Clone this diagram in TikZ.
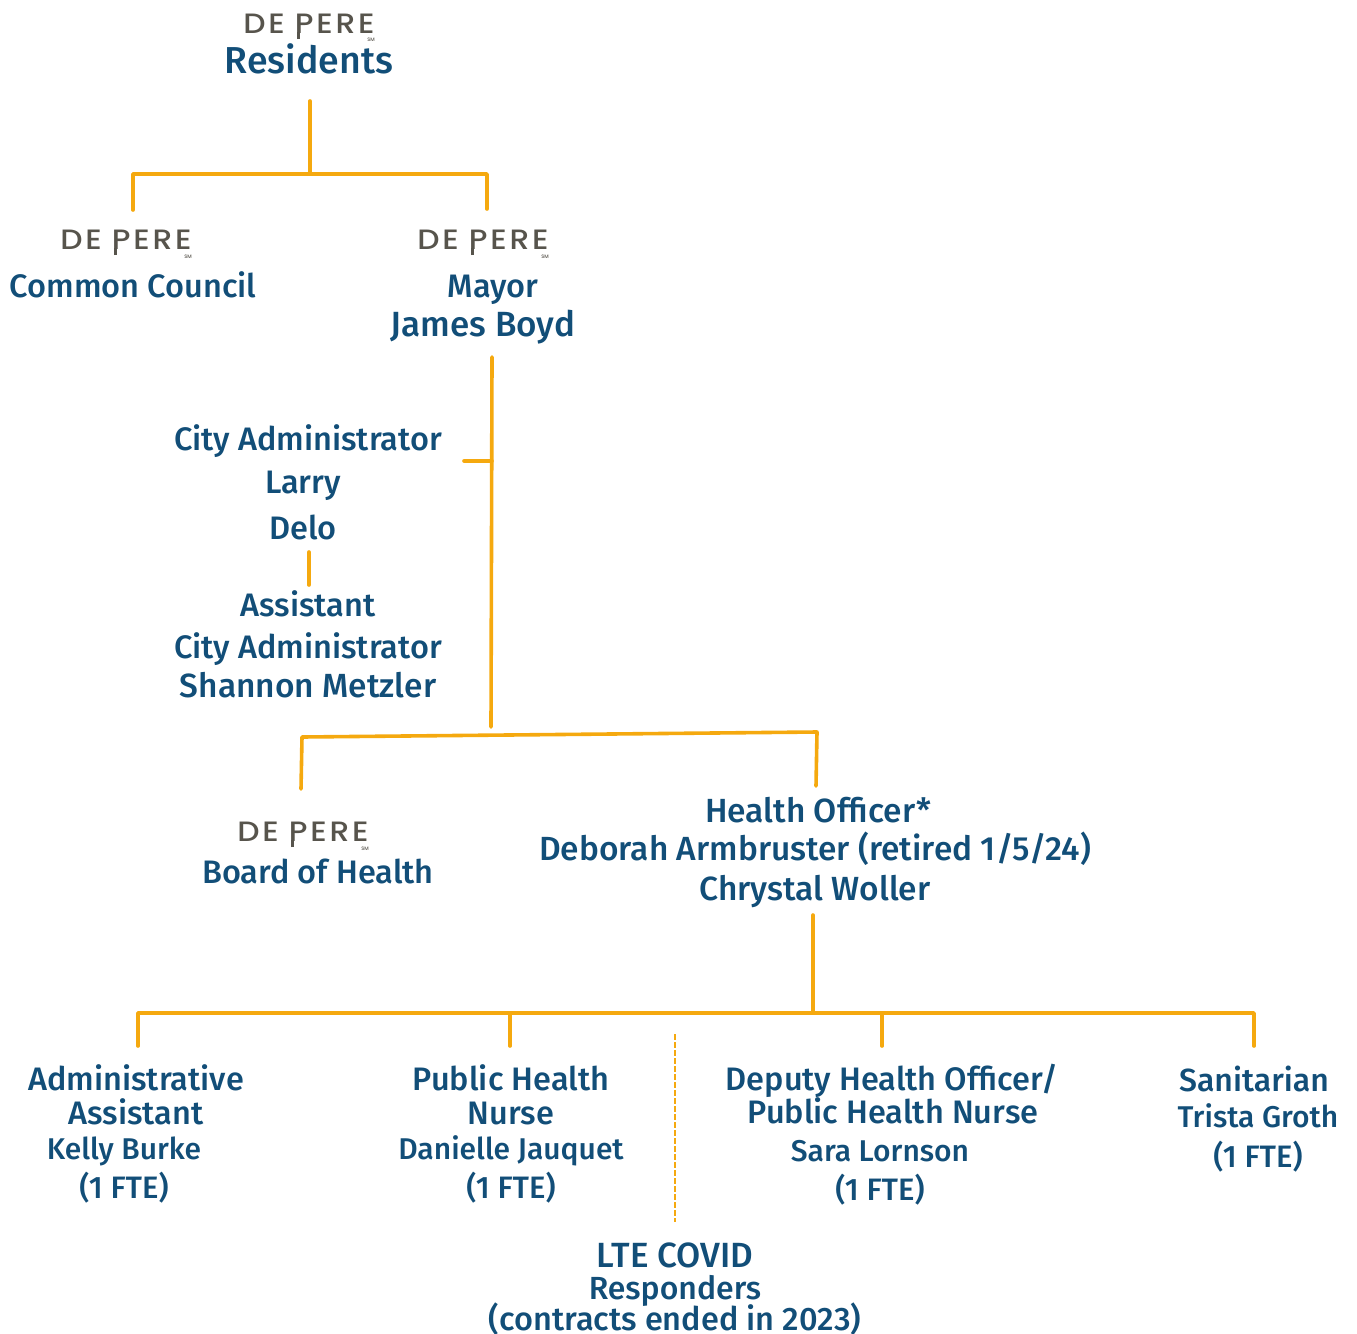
\documentclass[tikz,border=0pt]{standalone}
\usepackage{graphicx}
\usepackage{fontspec}
\setmainfont{Fira Sans}[UprightFont=* Medium,BoldFont=* Medium]
\newfontfamily\logofont{Poppins}[UprightFont=* Medium]
\definecolor{txtblue}{HTML}{124E78}
\definecolor{linegold}{HTML}{F5A90F}
\definecolor{logogray}{HTML}{57544C}
\newcommand{\smmark}{{\logofont\fontsize{5}{5}\selectfont SM}}
\newcommand{\depere}{\scalebox{1.12}[1]{\logofont\fontsize{28}{28}\selectfont\addfontfeature{LetterSpace=9}DE\hspace{9pt}\rlap{\hspace{2pt}\rule[-6pt]{2.8pt}{7pt}}PERE}\llap{\raisebox{-9pt}{\smmark}}}
\tikzset{
  x=1pt,y=-1pt,
  lbl/.style={text=txtblue,inner sep=0pt,align=center,font=\fontsize{32.5}{38}\selectfont,anchor=base},
  lblbig/.style={lbl,font=\fontsize{37.5}{38}\selectfont},
  lblwide/.style={lbl,font=\fontsize{33.5}{38}\selectfont},
  lblname/.style={lbl,font=\fontsize{35}{38}\selectfont},
  lblsm/.style={lbl,font=\fontsize{30}{38}\selectfont},
  lblfte/.style={lbl,font=\fontsize{31}{38}\selectfont},
  logotxt/.style={text=logogray,inner sep=0pt,anchor=base},
  conn/.style={draw=linegold,line width=3.6pt,line cap=round,line join=round},
  thinconn/.style={draw=linegold,line width=1.4pt,dash pattern=on 6pt off 2pt},
}
\begin{document}
\begin{tikzpicture}
\useasboundingbox (0,0) rectangle (1357,1333);
% logos
\node[logotxt] (l1) at (309,33) {\depere};
\node[logotxt] (l2) at (126,249) {\depere};
\node[logotxt] (l3) at (483,249) {\depere};
\node[logotxt] (l4) at (303,841) {\depere};
% labels
\node[lblbig] (res) at (309,73) {Residents};
\node[lbl] (cc) at (133,297) {Common Council};
\node[lbl] (mayor) at (493,297) {Mayor};
\node[lblname] (boyd) at (483,336) {James Boyd};
\node[lbl] (ca) at (308,450) {City Administrator};
\node[lbl] (larry) at (303,493) {Larry};
\node[lbl] (delo) at (303,539) {Delo};
\node[lbl] (asst) at (308,616) {Assistant};
\node[lbl] (ca2) at (308,658) {City Administrator};
\node[lblwide] (shannon) at (308,697) {Shannon Metzler};
\node[lbl] (boh) at (318,883) {Board of Health};
\node[lblwide] (ho) at (818,822) {Health Officer*};
\node[lblwide] (deb) at (815,860) {Deborah Armbruster (retired 1/5/24)};
\node[lblwide] (chry) at (815,900) {Chrystal Woller};
\node[lbl] (aa1) at (136,1090) {Administrative};
\node[lbl] (aa2) at (136,1124) {Assistant};
\node[lblsm] (aa3) at (124,1159) {Kelly Burke};
\node[lblfte] (aa4) at (124,1198) {(1 FTE)};
\node[lbl] (ph1) at (511,1090) {Public Health};
\node[lbl] (ph2) at (511,1124) {Nurse};
\node[lblsm] (ph3) at (511,1159) {Danielle Jauquet};
\node[lblfte] (ph4) at (511,1198) {(1 FTE)};
\node[lbl] (dh1) at (892,1090) {Deputy Health Officer/};
\node[lbl] (dh2) at (893,1123) {Public Health Nurse};
\node[lblsm] (dh3) at (880,1161) {Sara Lornson};
\node[lblfte] (dh4) at (880,1200) {(1 FTE)};
\node[lbl,font=\fontsize{32}{38}\selectfont] (san1) at (1254,1091) {Sanitarian};
\node[lblsm] (san2) at (1258,1127) {Trista Groth};
\node[lblfte] (san3) at (1258,1167) {(1 FTE)};
\node[lblname] (lte1) at (675,1267) {LTE COVID};
\node[lbl,font=\fontsize{32}{38}\selectfont] (lte2) at (675,1299) {Responders};
\node[lbl] (lte3) at (675,1330) {(contracts ended in 2023)};
% connector ends
\coordinate (a0) at (310,101);
\coordinate (a1) at (310,174);
\coordinate (a2) at (133,174);
\coordinate (a3) at (133,210);
\coordinate (a4) at (487,174);
\coordinate (a5) at (487,209);
\coordinate (b0) at (492,357);
\coordinate (b1) at (491,727);
\coordinate (b2) at (492,461);
\coordinate (b3) at (464,461);
\coordinate (c0) at (309,552);
\coordinate (c1) at (309,585);
\coordinate (d0) at (301,789);
\coordinate (d1) at (302,737);
\coordinate (d2) at (817,732);
\coordinate (d3) at (816,786);
\coordinate (e0) at (813,915);
\coordinate (e1) at (813,1013);
\coordinate (f0) at (138,1046);
\coordinate (f1) at (138,1013);
\coordinate (f2) at (1254,1013);
\coordinate (f3) at (1254,1046);
\coordinate (g0) at (510,1013);
\coordinate (g1) at (510,1046);
\coordinate (h0) at (882,1013);
\coordinate (h1) at (882,1046);
\coordinate (i0) at (675,1034);
\coordinate (i1) at (675,1222);
% connectors
\draw[conn] (a0) -- (a1);
\draw[conn] (a3) -- (a2) -- (a4) -- (a5);
\draw[conn] (b0) -- (b1);
\draw[conn] (b2) -- (b3);
\draw[conn] (c0) -- (c1);
\draw[conn] (d0) -- (d1) -- (d2) -- (d3);
\draw[conn] (e0) -- (e1);
\draw[conn] (f0) -- (f1) -- (f2) -- (f3);
\draw[conn] (g0) -- (g1);
\draw[conn] (h0) -- (h1);
\draw[thinconn] (i0) -- (i1);
\end{tikzpicture}
\end{document}
